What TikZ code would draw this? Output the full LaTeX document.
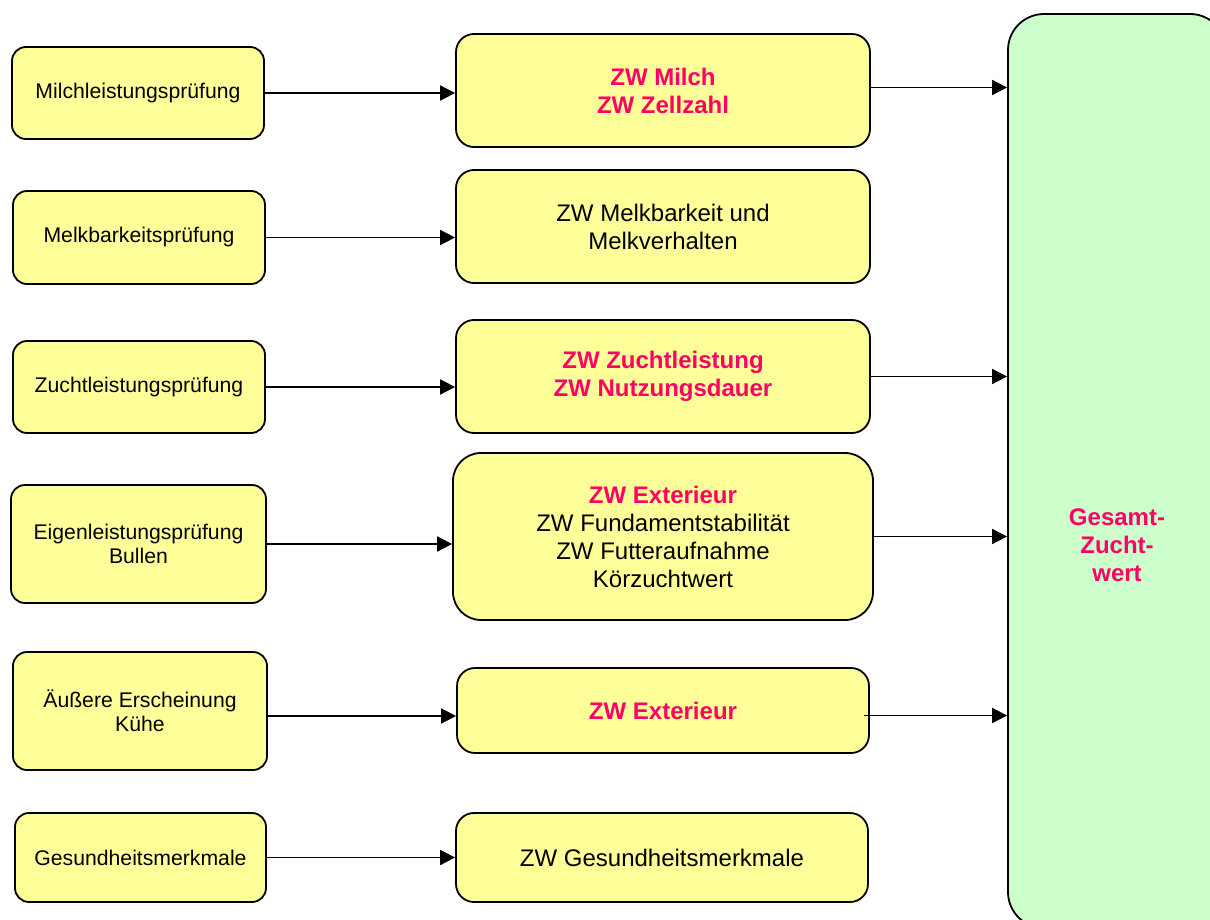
\documentclass[tikz,border=0pt]{standalone}
\usepackage{fontspec}
\setmainfont{Liberation Sans}
\usetikzlibrary{arrows.meta, positioning}
\definecolor{zwpink}{RGB}{255,0,102}
\definecolor{boxyellow}{RGB}{255,255,153}
\definecolor{boxgreen}{RGB}{204,255,204}
\tikzset{
	pruefbox/.style={draw, line width=0.9pt, fill=boxyellow, rounded corners=7pt, inner sep=0pt, align=center, font=\fontsize{10.6}{12}\selectfont},
	zwbox/.style={draw, line width=0.9pt, fill=boxyellow, rounded corners=9pt, inner sep=0pt, align=center, font=\fontsize{12}{14}\selectfont},
	gzwbox/.style={draw, line width=0.9pt, fill=boxgreen, rounded corners=18pt, inner sep=0pt},
	pfeil/.style={-{Triangle[length=7.5pt,width=7.5pt]}, line width=0.9pt}
}
\begin{document}
\begin{tikzpicture}[x=0.5pt, y=-0.5pt]
		\useasboundingbox (0,0) rectangle (1210,920);
		\clip (0,0) rectangle (1210,920);

		\node(lm)  [pruefbox, minimum width=126pt, minimum height=46pt] at (138,93)  {Milchleistungsprüfung};
		\node(lmb) [pruefbox, minimum width=126pt, minimum height=46.5pt] at (139,237.5)  {Melkbarkeitsprüfung};
		\node(lz)  [pruefbox, minimum width=126pt, minimum height=46pt] at (139,387)  {Zuchtleistungsprüfung};
		\node(le)  [pruefbox, minimum width=127.5pt, minimum height=59pt] at (138.5,544)  {Eigenleistungsprüfung\\Bullen};
		\node(la)  [pruefbox, minimum width=127pt, minimum height=59pt] at (140,711)  {Äußere Erscheinung\\Kühe};
		\node(lg)  [pruefbox, minimum width=125.5pt, minimum height=44.5pt] at (140.5,857.5)  {Gesundheitsmerkmale};

		\node(zm)  [zwbox, minimum width=207pt, minimum height=56.5pt] at (663,90.5)  {\textcolor{zwpink}{\textbf{ZW Milch}}\\\textcolor{zwpink}{\textbf{ZW Zellzahl}}};
		\node(zmb) [zwbox, minimum width=207pt, minimum height=56.5pt] at (663,226.5)  {ZW Melkbarkeit und\\Melkverhalten};
		\node(zz)  [zwbox, minimum width=207pt, minimum height=56.5pt] at (663,376.5)  {\textcolor{zwpink}{\textbf{ZW Zuchtleistung}}\\\textcolor{zwpink}{\textbf{ZW Nutzungsdauer}}};
		\node(ze)  [zwbox, rounded corners=14pt, minimum width=210pt, minimum height=83.5pt] at (663,536.5)  {\textcolor{zwpink}{\textbf{ZW Exterieur}}\\ZW Fundamentstabilität\\ZW Futteraufnahme\\Körzuchtwert};
		\node(zx)  [zwbox, minimum width=206pt, minimum height=42.5pt] at (663,710.5)  {\textcolor{zwpink}{\textbf{ZW Exterieur}}};
		\node(zg)  [zwbox, minimum width=206pt, minimum height=44.5pt] at (662,857.5)  {ZW Gesundheitsmerkmale};

		\node(gzw) [gzwbox, minimum width=109pt, minimum height=457pt,
			label={[text=zwpink, font=\fontsize{12}{14}\selectfont\bfseries, align=center, yshift=-37pt]center:Gesamt-\\Zucht-\\wert}] at (1117,471)  {};

		\draw[pfeil] (lm.east) -- (lm.east -| zm.west);
		\draw[pfeil] (lmb.east) -- (lmb.east -| zmb.west);
		\draw[pfeil] (lz.east) -- (lz.east -| zz.west);
		\draw[pfeil] (le.east) -- (le.east -| ze.west);
		\draw[pfeil] ([yshift=-2.5pt]la.east) -- ([yshift=-2.5pt]la.east -| zx.west);
		\draw[pfeil] (lg.east) -- (lg.east -| zg.west);

		\draw[pfeil] ([yshift=1.5pt]zm.east) -- ([yshift=1.5pt]zm.east -| gzw.west);
		\draw[pfeil] (zz.east) -- (zz.east -| gzw.west);
		\draw[pfeil] (ze.east) -- (ze.east -| gzw.west);
		\draw[pfeil] ([xshift=-3pt,yshift=-2.5pt]zx.east) -- ([yshift=-2.5pt]zx.east -| gzw.west);

		\end{tikzpicture}
\end{document}
